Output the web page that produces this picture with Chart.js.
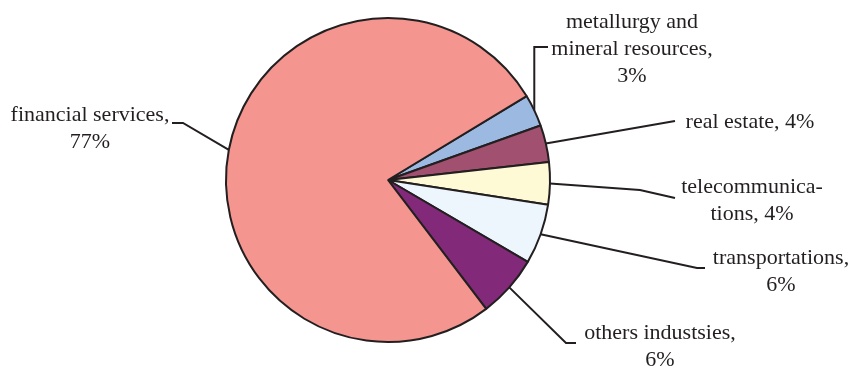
<!DOCTYPE html>
<html>
<head>
<meta charset="utf-8">
<script src="https://cdn.jsdelivr.net/npm/chart.js@4/dist/chart.umd.min.js"></script>
<style>
  body { margin: 0; background: #fff; }
</style>
</head>
<body>
<canvas id="pie" width="856" height="367"></canvas>
<script>
// slices, clockwise from the upper right
const sectors = ['metallurgy and mineral resources', 'real estate', 'telecommunications', 'transportations', 'others industsies', 'financial services']
const shares = [3.2, 3.7, 4.2, 6.0, 6.2, 76.7]
// label text as it is broken into lines (percent added from shares)
const labelLines = [
  ['metallurgy and', 'mineral resources,', '{p}'],
  ['real estate, {p}'],
  ['telecommunica-', 'tions, {p}'],
  ['transportations,', '{p}'],
  ['others industsies,', '{p}'],
  ['financial services,', '{p}'],
]
const colors = ['#9bb9e1', '#a2506f', '#fffad6', '#eef6fd', '#82297a', '#f4968f']

// where each label sits and how its leader line bends (null x = same x as the start)
const placement = [
  { x: 632, y: 22, path: [[null, 47], [548, 47]] },
  { x: 750, y: 122, path: [[675, 121]] },
  { x: 752, y: 187, path: [[640, 190], [675, 198]] },
  { x: 781, y: 258, path: [[697, 268], [705, 268]] },
  { x: 660, y: 333, path: [[566, 343], [576, 343]] },
  { x: 90, y: 115, path: [[183, 123], [172, 123]] },
]

const leaderLabels = {
  id: 'leaderLabels',
  afterDatasetsDraw(chart, args, opts) {
    const ctx = chart.ctx
    const arcs = chart.getDatasetMeta(0).data
    ctx.save()
    ctx.strokeStyle = '#231f20'
    ctx.fillStyle = '#231f20'
    ctx.lineWidth = 2
    ctx.font = opts.font
    ctx.textAlign = 'center'
    ctx.textBaseline = 'middle'
    arcs.forEach((a, i) => {
      const p = opts.placement[i]
      const mid = (a.startAngle + a.endAngle) / 2
      const sx = a.x + Math.cos(mid) * a.outerRadius
      const sy = a.y + Math.sin(mid) * a.outerRadius
      ctx.beginPath()
      ctx.moveTo(sx, sy)
      p.path.forEach((pt) => ctx.lineTo(pt[0] === null ? sx : pt[0], pt[1]))
      ctx.stroke()
      const pct = Math.round(shares[i]) + '%'
      labelLines[i].forEach((t, j) => {
        ctx.fillText(t.replace('{p}', pct), p.x, p.y + j * opts.lineHeight)
      })
    })
    ctx.restore()
  },
}

const ctx = document.getElementById('pie').getContext('2d')
new Chart(ctx, {
  type: 'pie',
  data: {
    labels: sectors,
    datasets: [
      {
        data: shares,
        backgroundColor: colors,
        borderColor: '#231f20',
        borderWidth: 2,
        radius: 162,
      },
    ],
  },
  options: {
    responsive: false,
    animation: false,
    rotation: 58.8,
    layout: { padding: { left: 0, right: 80, top: 10, bottom: 17 } },
    plugins: {
      legend: { display: false },
      tooltip: { enabled: false },
      leaderLabels: {
        font: '22px "Liberation Serif"',
        lineHeight: 27,
        placement: placement,
      },
    },
  },
  plugins: [leaderLabels],
})
</script>
</body>
</html>
